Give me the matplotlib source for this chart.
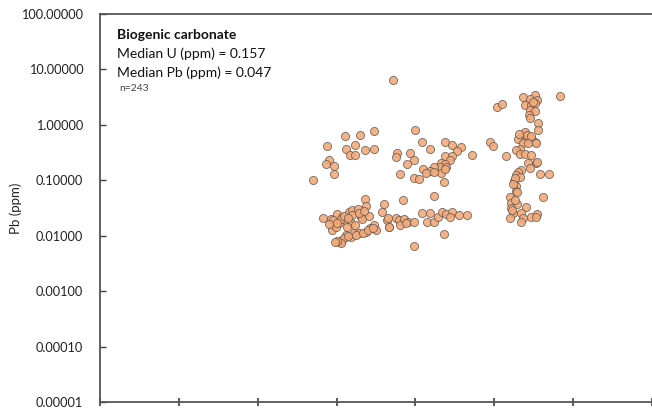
import matplotlib.pyplot as plt
import numpy as np
from matplotlib.ticker import FixedLocator, FormatStrFormatter

plt.rcParams['font.family'] = ['Lato', 'DejaVu Sans']

# Pb concentrations (ppm) against position along the section
x_upper = [37.1, 40.0, 34.8, 31.1, 33.0, 28.8, 31.2, 32.4, 33.6, 34.7,
           31.7, 32.4, 29.0, 28.7, 29.7, 29.7, 27.0, 37.6, 37.5, 39.3,
           39.8, 38.9, 38.1, 40.8, 41.8, 43.7, 44.7, 45.8, 45.3, 47.2,
           43.7, 44.6, 44.4, 43.3, 43.8, 43.1, 43.9, 42.3, 40.9, 41.9,
           41.3, 43.3, 42.3, 43.8, 39.8, 40.4, 43.6, 42.3, 38.4]
pb_upper = [6.44, 0.807, 0.774, 0.630, 0.656, 0.416, 0.367, 0.434, 0.352, 0.367,
            0.286, 0.286, 0.232, 0.197, 0.181, 0.130, 0.101, 0.311, 0.263, 0.311,
            0.232, 0.197, 0.130, 0.491, 0.367, 0.491, 0.434, 0.399, 0.338, 0.286,
            0.274, 0.274, 0.232, 0.205, 0.197, 0.174, 0.174, 0.174, 0.160, 0.147,
            0.135, 0.135, 0.141, 0.160, 0.110, 0.105, 0.093, 0.052, 0.044]

x_lower_left = [33.6, 33.7, 36.0, 35.7, 28.3, 29.3, 30.1, 30.7, 31.6, 31.9,
                32.7, 33.1, 34.1, 31.2, 31.8, 30.3, 29.4, 29.9, 31.3, 32.4,
                33.2, 34.7, 35.0, 36.4, 36.7, 30.3, 30.7, 31.2, 31.8, 32.2,
                32.8, 33.7, 34.3, 30.9, 30.6, 30.0, 31.5, 32.5, 33.3, 34.0,
                34.6, 29.8, 29.6, 30.5, 31.0, 32.0, 32.9, 33.5, 31.4, 30.0,
                29.0]
pb_lower_left = [0.046, 0.034, 0.037, 0.027, 0.021, 0.020, 0.025, 0.022, 0.027, 0.029,
                 0.030, 0.022, 0.023, 0.019, 0.017, 0.017, 0.0127, 0.0144, 0.0144, 0.0156,
                 0.020, 0.0156, 0.0127, 0.019, 0.0144, 0.0077, 0.0084, 0.0103, 0.0095, 0.0112,
                 0.0112, 0.0117, 0.0138, 0.0091, 0.0074, 0.0080, 0.0098, 0.0105, 0.0110, 0.0125,
                 0.0135, 0.0078, 0.019, 0.020, 0.023, 0.024, 0.026, 0.028, 0.021, 0.017,
                 0.016]

x_lower_mid = [37.5, 37.9, 38.5, 39.1, 39.8, 38.1, 38.8, 36.7, 40.8, 41.8,
               41.5, 42.4, 42.8, 43.4, 43.9, 44.6, 44.4, 45.5, 46.5, 43.6,
               39.8, 36.5]
pb_lower_mid = [0.021, 0.019, 0.020, 0.018, 0.018, 0.0156, 0.017, 0.0144, 0.026, 0.026,
                0.018, 0.018, 0.022, 0.027, 0.025, 0.027, 0.022, 0.024, 0.024, 0.0107,
                0.0065, 0.021]

x_right = [58.3, 50.3, 51.0, 53.7, 55.1, 55.4, 54.5, 53.9, 54.7, 55.2,
           54.5, 55.1, 54.4, 54.5, 55.6, 55.6, 53.9, 53.4, 53.0, 54.0,
           54.7, 55.2, 53.7, 54.3, 55.3, 53.3, 52.8, 49.5, 49.9, 51.5,
           53.3, 53.9, 54.7, 54.3, 55.3, 55.4, 54.5, 53.4, 53.0, 52.8,
           53.3, 52.5, 55.8, 56.9, 52.8, 52.7, 52.9, 52.0, 52.1, 52.9,
           54.0, 52.1, 56.2, 52.4, 52.0, 53.4, 53.7, 53.4, 54.7, 55.4,
           55.3, 54.9, 54.2, 54.6, 53.1, 52.6, 52.4, 52.6, 52.3]
pb_right = [3.32, 2.10, 2.38, 3.19, 3.46, 2.81, 2.93, 2.28, 2.28, 2.48,
            1.85, 1.78, 1.51, 1.33, 1.08, 0.807, 0.743, 0.604, 0.556, 0.533,
            0.580, 0.491, 0.471, 0.471, 0.471, 0.367, 0.352, 0.491, 0.416, 0.274,
            0.298, 0.298, 0.286, 0.205, 0.205, 0.214, 0.167, 0.153, 0.141, 0.125,
            0.115, 0.097, 0.130, 0.130, 0.079, 0.064, 0.062, 0.050, 0.039, 0.037,
            0.033, 0.032, 0.050, 0.026, 0.021, 0.026, 0.021, 0.018, 0.022, 0.025,
            0.022, 2.6, 0.65, 0.62, 0.68, 0.11, 0.085, 0.045, 0.029]

y_ticks = [1e-5, 1e-4, 1e-3, 1e-2, 1e-1, 1, 10, 100]
x_ticks = [0, 10, 20, 30, 40, 50, 60, 70]

x_all = x_upper + x_lower_left + x_lower_mid + x_right
pb_all = pb_upper + pb_lower_left + pb_lower_mid + pb_right

fig = plt.figure(figsize=(6.52, 4.08), dpi=100)
ax = fig.add_axes([100 / 652, 6 / 408, 1 - 100 / 652, 388 / 408])

ax.scatter(x_all, pb_all, s=34, color='#f2aa7a', edgecolor='#6b5a4e',
           linewidth=0.6, alpha=0.9, zorder=3)

ax.set_yscale('log')
ax.set_ylim(1e-5, 100)
ax.set_xlim(0, 69.9)
ax.yaxis.set_major_locator(FixedLocator(y_ticks))
ax.yaxis.set_minor_locator(FixedLocator([]))
ax.yaxis.set_major_formatter(FormatStrFormatter('%.5f'))
ax.set_xticks(x_ticks)
ax.set_xticklabels([])

ax.tick_params(axis='y', direction='in', length=4, width=1, color='#404040',
               labelsize=9.2, pad=12, labelcolor='#222222')
ax.tick_params(axis='x', direction='inout', length=6, width=1.2, color='#404040')

for side in ['left', 'bottom', 'top']:
    ax.spines[side].set_color('#555555')
    ax.spines[side].set_linewidth(1.3)
ax.spines['right'].set_visible(False)

ax.set_ylabel('Pb (ppm)', fontsize=9.5, color='#222222')
ax.yaxis.set_label_coords(-78 / 552, 0.5)

ax.text(0.03, 0.962, 'Biogenic carbonate', transform=ax.transAxes,
        fontsize=10, fontweight='bold', color='#111111', va='top')
ax.text(0.03, 0.913, 'Median U (ppm) = 0.157', transform=ax.transAxes,
        fontsize=10, color='#111111', va='top')
ax.text(0.03, 0.865, 'Median Pb (ppm) = 0.047', transform=ax.transAxes,
        fontsize=10, color='#111111', va='top')
ax.text(0.035, 0.82, 'n=243', transform=ax.transAxes,
        fontsize=7.5, color='#444444', va='top')

fig.savefig('out.png', dpi=100)
